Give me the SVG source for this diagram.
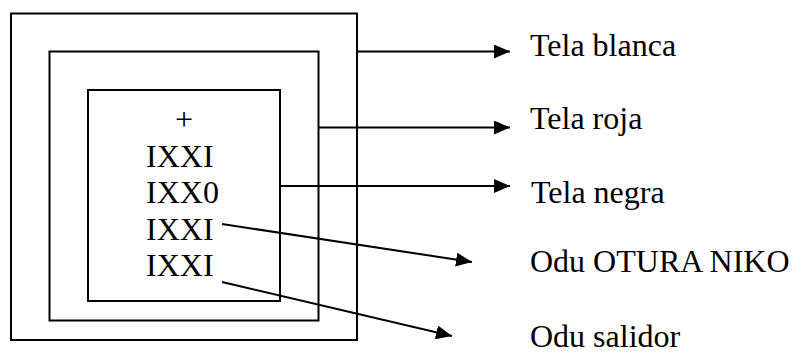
<svg xmlns="http://www.w3.org/2000/svg" width="802" height="352" viewBox="0 0 802 352">
<style>
.box{fill:none;stroke:#000;stroke-width:2}
.ln{fill:none;stroke:#000;stroke-width:2;marker-end:url(#ah)}
text{font-family:"Liberation Serif","Times New Roman",serif;font-size:32px;fill:#000}
</style>
<defs>
<marker id="ah" markerUnits="userSpaceOnUse" markerWidth="16" markerHeight="14" refX="16" refY="7" orient="auto" viewBox="0 0 16 14">
<path d="M0,0 L16,7 L0,14 z" fill="#000"/>
</marker>
</defs>
<rect width="802" height="352" fill="#fff"/>
<g id="tela-blanca-box"><rect class="box" x="11" y="13.5" width="346" height="326.5"/></g>
<g id="tela-roja-box"><rect class="box" x="49.5" y="51.5" width="269" height="269"/></g>
<g id="tela-negra-box"><rect class="box" x="88" y="90" width="192" height="211"/>
<text x="184" y="130" text-anchor="middle">+</text>
<text x="146" y="166.5">IXXI</text>
<text x="146" y="203">IXX0</text>
<text x="146" y="240">IXXI</text>
<text x="146" y="276">IXXI</text>
</g>
<g id="connectors">
<line class="ln" x1="357" y1="51.5" x2="510" y2="51.5"/>
<line class="ln" x1="318.5" y1="127.5" x2="510" y2="127.5"/>
<line class="ln" x1="280" y1="186" x2="510" y2="186"/>
<line class="ln" x1="222" y1="224" x2="472" y2="262"/>
<line class="ln" x1="222" y1="282" x2="452" y2="336"/>
</g>
<g id="labels">
<text x="530" y="56">Tela blanca</text>
<text x="530" y="128.5">Tela roja</text>
<text x="531" y="202.5">Tela negra</text>
<text x="530" y="272">Odu OTURA NIKO</text>
<text x="530" y="346.5">Odu salidor</text>
</g>
</svg>
